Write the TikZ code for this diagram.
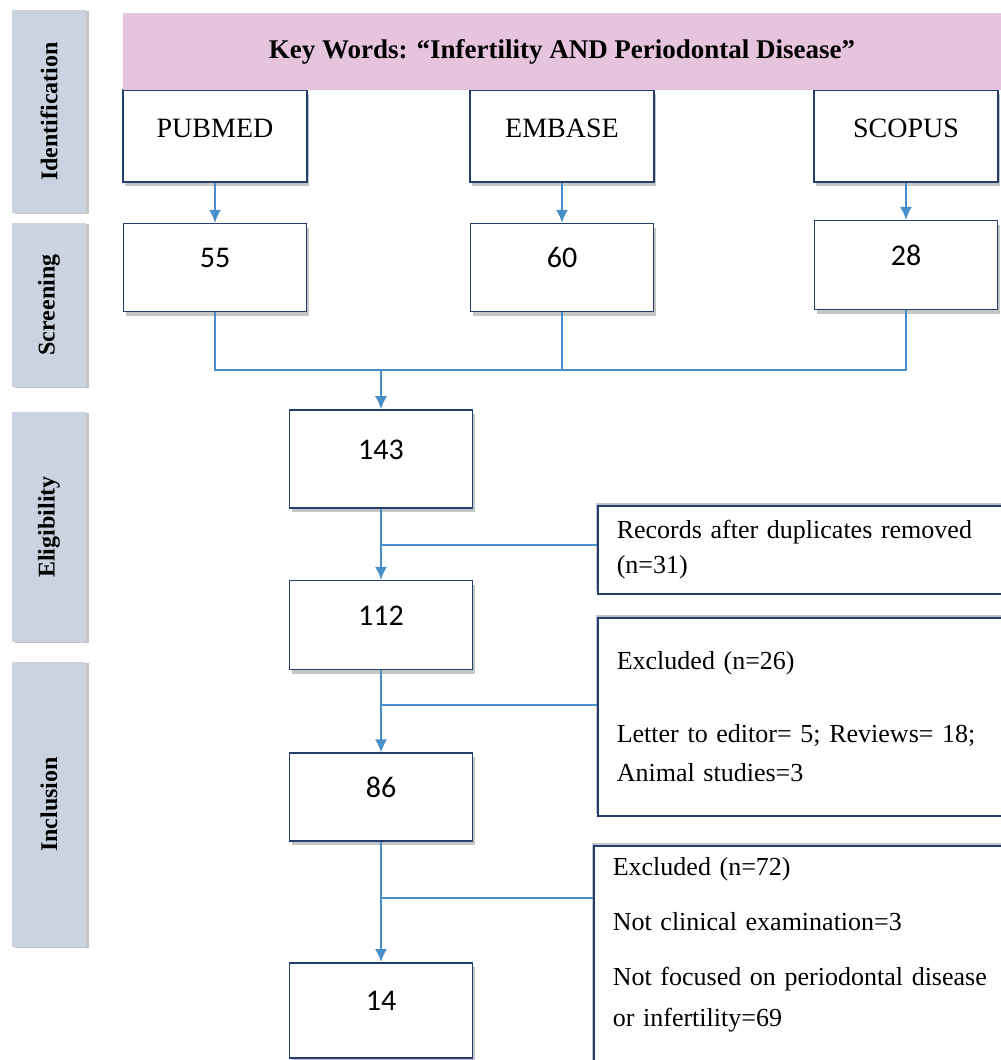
\documentclass[tikz,border=0pt]{standalone}
\usepackage{fontspec}
\setmainfont{Liberation Serif}
\newfontfamily\calibri{Carlito}
\usetikzlibrary{positioning, shadows, arrows.meta}
\definecolor{boxnavy}{RGB}{36,62,112}
\definecolor{linkblue}{RGB}{72,142,200}
\definecolor{phasegray}{RGB}{202,211,223}
\definecolor{keypink}{RGB}{231,196,222}

\begin{document}
\begin{tikzpicture}[
        x=1pt, y=-1pt,
        % Bandeaux des phases (colonne de gauche)
        phase/.style={
            fill=phasegray,
            minimum width=74pt,
            inner sep=0pt,
            drop shadow={shadow xshift=3pt, shadow yshift=-1pt, fill=black!45, opacity=.5},
            font=\fontsize{24}{28}\selectfont\bfseries
        },
        % Bandeau des mots-clés
        keyband/.style={
            fill=keypink,
            minimum width=878pt,
            minimum height=77pt,
            inner sep=0pt,
            font=\fontsize{27}{32}\selectfont\bfseries
        },
        % Bases de données
        srcbox/.style={
            draw=boxnavy, line width=1.6pt, fill=white,
            minimum width=184pt, minimum height=92pt,
            inner sep=0pt, text height=20pt, text depth=17pt,
            drop shadow={shadow xshift=2pt, shadow yshift=-4pt, fill=black!45, opacity=.5},
            font=\fontsize{28}{34}\selectfont
        },
        % Effectifs
        numbox/.style={
            draw=boxnavy, line width=1.6pt, fill=white,
            minimum width=183pt,
            inner sep=0pt, text height=20pt, text depth=20pt,
            drop shadow={shadow xshift=2pt, shadow yshift=-4pt, fill=black!45, opacity=.5},
            font=\calibri\fontsize{30}{36}\selectfont
        },
        % Exclusions (coupées à droite)
        notebox/.style={
            draw=boxnavy, line width=1.6pt, fill=white,
            anchor=north west, align=left, text width=420pt,
            inner xsep=19pt, inner ysep=12pt,
            drop shadow={shadow xshift=-2pt, shadow yshift=3pt, fill=black!45, opacity=.5},
            font=\fontsize{26}{35}\selectfont
        },
        link/.style={linkblue, line width=1.6pt},
        flow/.style={link, -{Latex[length=13pt, width=12pt]}}
    ]

    \useasboundingbox (0,0) rectangle (1001,1060);

    % Phases
    \node[phase, minimum height=203pt] (idf) at (49,111.5) {\rotatebox{90}{Identification}};
    \node[phase, minimum height=164pt] (scr) at (49,305) {\rotatebox{90}{Screening}};
    \node[phase, minimum height=230pt] (elg) at (49,527) {\rotatebox{90}{Eligibility}};
    \node[phase, minimum height=285pt] (inc) at (49,804.5) {\rotatebox{90}{Inclusion}};

    % Identification
    \node[srcbox] (pub) at (215,136) {PUBMED};
    \node[srcbox] (emb) at (562,136) {EMBASE};
    \node[srcbox] (sco) at (906,136) {SCOPUS};
    \node[keyband] (kw) at (562,51.5) {Key Words: “Infertility AND Periodontal Disease”};

    % Screening
    \node[numbox, minimum height=88pt] (n55) [below=40pt of pub] {55};
    \node[numbox, minimum height=88pt] (n60) [below=40pt of emb] {60};
    \node[numbox, minimum height=89pt] (n28) [below=37pt of sco] {28};

    % Colonne principale
    \node[numbox, minimum height=98pt] (n143) at (381,459) {143};
    \node[numbox, minimum height=89pt] (n112) [below=71pt of n143] {112};
    \node[numbox, minimum height=88pt] (n86) [below=82pt of n112] {86};
    \node[numbox, minimum height=95pt] (n14) [below=120pt of n86] {14};

    % Exclusions
    \node[notebox, minimum height=88pt] (rec) at (597,505)
        {Records after duplicates removed\\(n=31)};
    \node[notebox, minimum height=198pt] (ex1) at (597,617)
        {Excluded (n=26)\\[38pt]
         Letter to editor= 5; Reviews= 18;\\[4pt]
         Animal studies=3};
    \node[notebox] (ex2) at (593,845)
        {Excluded (n=72)\\[20pt]
         Not clinical examination=3\\[20pt]
         Not focused on periodontal disease\\[6pt]
         or infertility=69\rule[-40pt]{0pt}{0pt}};

    % Flèches des bases
    \draw[flow] (pub) -- (n55);
    \draw[flow] (emb) -- (n60);
    \draw[flow] (sco) -- (n28);

    % Regroupement
    \coordinate (join) at (381,370);
    \draw[link] (n55.south) |- (join) -| (n28.south);
    \draw[link] (n60.south) -- (n60.south |- join);
    \draw[flow] (join) -- (n143.north);

    % Suite du tri
    \draw[flow] (n143) -- (n112);
    \draw[flow] (n112) -- (n86);
    \draw[flow] (n86) -- (n14);

    % Branches vers les exclusions
    \coordinate (r1) at ([yshift=5pt]rec.west);
    \coordinate (r2) at ([yshift=12pt]ex1.west);
    \coordinate (r3) at ([yshift=-53pt]ex2.north west);
    \draw[link] (r1) -- (r1 -| n143);
    \draw[link] (r2) -- (r2 -| n112);
    \draw[link] (r3) -- (r3 -| n86);

\end{tikzpicture}
\end{document}
